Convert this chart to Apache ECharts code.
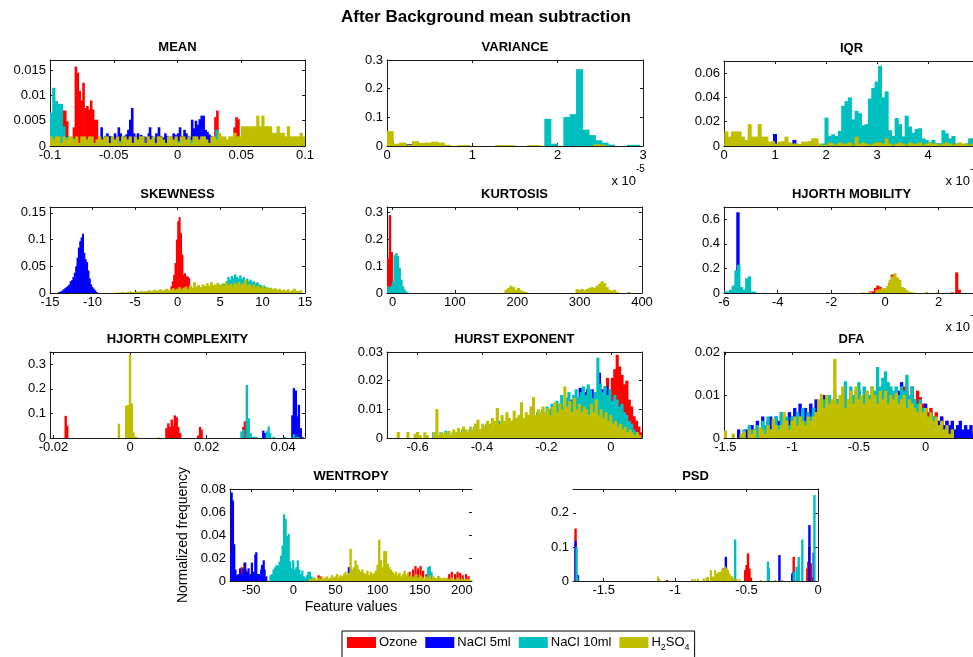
<!DOCTYPE html>
<html>
<head>
<meta charset="utf-8">
<script src="https://cdn.jsdelivr.net/npm/echarts@6/dist/echarts.min.js"></script>
<style>
  html, body { margin: 0; padding: 0; background: #fff; }
  #chart { width: 973px; height: 657px; }
</style>
</head>
<body>
<div id="chart"></div>
<script>
// series names (legend order) - each histogram is a list of [bin centre, normalized frequency]
const seriesNames = ['Ozone', 'NaCl 5ml', 'NaCl 10ml', 'H2SO4']

// helper: evenly spaced bins -> [centre, height] pairs
function bins (start, step, heights) {
  return heights.map((h, i) => [start + i * step, h])
}

// ---------- MEAN ----------
const meanXLim = [-0.1, 0.1]
const meanYLim = [0, 0.017]
const meanXTicks = [-0.1, -0.05, 0, 0.05, 0.1]
const meanYTicks = [0, 0.005, 0.01, 0.015]
const meanWidths = [0.0015, 0.0015, 0.002, 0.002]
const meanOzone = [[-0.0955, 0.002], [-0.094, 0.003], [-0.0925, 0.008], [-0.091, 0.008], [-0.0895, 0.007], [-0.088, 0.007], [-0.0865, 0.0049],
  [-0.0812, 0.0037], [-0.0797, 0.0157], [-0.0782, 0.0145], [-0.0767, 0.0109], [-0.0752, 0.009], [-0.0737, 0.0125], [-0.0722, 0.0075],
  [-0.0707, 0.0079], [-0.0692, 0.0072], [-0.0677, 0.009], [-0.0662, 0.0072], [-0.0647, 0.0052], [-0.0632, 0.0052],
  [-0.0587, 0.0015], [-0.0452, 0.001], [-0.0347, 0.001], [-0.0062, 0.0017], [-0.0047, 0.0019], [0.0103, 0.001], [0.0298, 0.0057],
  [0.0313, 0.007], [0.0343, 0.0015], [0.0448, 0.0037], [0.0463, 0.0057], [0.0478, 0.0053], [0.0508, 0.001]]
const meanNacl5 = [[-0.0955, 0.0015], [-0.0895, 0.0033], [-0.0865, 0.002], [-0.0595, 0.0037], [-0.058, 0.0015], [-0.0565, 0.002], [-0.055, 0.0025],
  [-0.0535, 0.002], [-0.052, 0.0019], [-0.049, 0.0025], [-0.0475, 0.002], [-0.046, 0.0037], [-0.0445, 0.0025], [-0.043, 0.0015], [-0.0415, 0.002],
  [-0.04, 0.0023], [-0.0385, 0.0032], [-0.037, 0.0052], [-0.0355, 0.0075], [-0.034, 0.0025], [-0.0325, 0.002], [-0.031, 0.0025], [-0.03, 0.0017],
  [-0.0285, 0.0022], [-0.027, 0.0017], [-0.026, 0.0019], [-0.024, 0.0018], [-0.0225, 0.0025], [-0.0215, 0.0037], [-0.02, 0.002], [-0.018, 0.0015],
  [-0.0165, 0.0025], [-0.0145, 0.0037], [-0.013, 0.002], [-0.011, 0.0017], [-0.0095, 0.0025], [-0.008, 0.002], [-0.007, 0.0012], [-0.0045, 0.0018],
  [-0.003, 0.0025], [-0.0015, 0.0022], [0.0005, 0.0025], [0.002, 0.0037], [0.0035, 0.002], [0.0055, 0.0032], [0.007, 0.0025], [0.0085, 0.002],
  [0.01, 0.0018], [0.0115, 0.0052], [0.013, 0.0035], [0.0145, 0.005], [0.016, 0.0042], [0.0175, 0.0053], [0.019, 0.006], [0.0205, 0.006],
  [0.022, 0.0032], [0.0235, 0.0028], [0.025, 0.0023], [0.0265, 0.002], [0.028, 0.0017], [0.03, 0.0015], [0.055, 0.0037], [0.06, 0.0013],
  [0.066, 0.0013], [0.072, 0.0013], [0.078, 0.0013], [0.084, 0.0013], [0.09, 0.0013], [0.096, 0.0013]]
const meanNacl10 = [[-0.099, 0.0066], [-0.097, 0.0115], [-0.095, 0.0089], [-0.093, 0.0083], [-0.091, 0.0083], [-0.089, 0.0039], [-0.087, 0.0018],
  [-0.085, 0.0012], [-0.081, 0.0015], [-0.075, 0.0012], [-0.069, 0.0012], [-0.063, 0.001], [-0.055, 0.0012], [-0.051, 0.0017], [-0.045, 0.001],
  [-0.039, 0.001], [-0.031, 0.0012], [-0.021, 0.0012], [-0.011, 0.001], [0.001, 0.001], [0.011, 0.0012], [0.019, 0.0012], [0.031, 0.0032],
  [0.037, 0.0015], [0.047, 0.0015], [0.053, 0.0015], [0.057, 0.0015], [0.061, 0.0015], [0.065, 0.0015], [0.069, 0.0015], [0.073, 0.0015],
  [0.077, 0.0015], [0.081, 0.0015], [0.085, 0.0015], [0.087, 0.0015], [0.091, 0.0015], [0.095, 0.0015], [0.099, 0.0015]]
const meanAcid = bins(-0.099, 0.002, [
  0.0019, 0.0013, 0.0019, 0.0019, 0.0006, 0.0019, 0.0013, 0.0019, 0.0019, 0.0013,
  0.0019, 0.0006, 0.0019, 0.0019, 0.0013, 0.0019, 0.0019, 0.0006, 0.0013, 0.0019,
  0.0013, 0.0019, 0.0019, 0.0006, 0.0019, 0.0013, 0.0019, 0.0006, 0.0019, 0.0019,
  0.0013, 0.0019, 0.0006, 0.0019, 0.0013, 0.0019, 0.0019, 0.0006, 0.0019, 0.0013,
  0.0019, 0.0006, 0.0019, 0.0019, 0.0013, 0.0006, 0.0019, 0.0019, 0.0013, 0.0019,
  0.0006, 0.0019, 0.0019, 0.0013, 0.0019, 0.0006, 0.0019, 0.0019, 0.0013, 0.0019,
  0.0019, 0.0013, 0.0006, 0.0019, 0.0019, 0.0013, 0.0026, 0.0019, 0.0019, 0.0013,
  0.0019, 0.0019, 0.0026, 0.0019, 0.0019,
  0.0039, 0.0039, 0.0039, 0.0039, 0.0039, 0.0039, 0.006, 0.0039, 0.006, 0.0039,
  0.0039, 0.0039, 0.0026, 0.0026, 0.0039, 0.0026, 0.0026, 0.0019, 0.0039, 0.0019,
  0.0019, 0.0019, 0.0019, 0.0026, 0.0019])

// ---------- VARIANCE (x in units of 1e-5) ----------
const varXLim = [0, 3]
const varYLim = [0, 0.3]
const varXTicks = [0, 1, 2, 3]
const varYTicks = [0, 0.1, 0.2, 0.3]
const varWidths = [0.075, 0.075, 0.0745, 0.075]
const varOzone = [[0.037, 0.022], [0.11, 0.004], [0.185, 0.008], [0.26, 0.005], [0.335, 0.006], [0.41, 0.004], [0.56, 0.003]]
const varNacl5 = [[0.037, 0.012], [0.11, 0.004], [0.185, 0.005], [0.26, 0.007], [0.335, 0.007], [0.41, 0.005], [0.485, 0.004], [0.56, 0.005], [0.635, 0.003]]
const varNacl10 = [[0.037, 0.004], [0.26, 0.004], [1.885, 0.095], [1.96, 0.008], [2.108, 0.101], [2.183, 0.111], [2.257, 0.268], [2.332, 0.057],
  [2.406, 0.038], [2.481, 0.02], [2.555, 0.012], [2.63, 0.005], [2.853, 0.004], [2.927, 0.004]]
const varAcid = [[0.037, 0.052], [0.11, 0.008], [0.185, 0.012], [0.26, 0.005], [0.335, 0.017], [0.41, 0.011], [0.485, 0.012], [0.56, 0.015],
  [0.635, 0.012], [0.71, 0.004], [0.86, 0.003], [0.935, 0.003], [1.31, 0.003], [1.385, 0.003], [1.46, 0.003], [1.685, 0.003], [1.76, 0.003],
  [2.46, 0.006], [2.535, 0.004]]

// ---------- IQR (x in units of 1e-3) ----------
const iqrXLim = [0, 5]
const iqrYLim = [0, 0.07]
const iqrXTicks = [0, 1, 2, 3, 4, 5]
const iqrYTicks = [0, 0.02, 0.04, 0.06]
const iqrWidths = [0.0655, 0.0655, 0.0655, 0.0655]
const iqrOzone = [[0.2, 0.003], [0.5, 0.003], [0.9, 0.002], [1.3, 0.002], [1.5, 0.0015], [2.7, 0.002], [3.4, 0.002], [3.8, 0.002]]
const iqrNacl5 = [[0.11, 0.004], [0.44, 0.003], [0.7, 0.002], [1.0, 0.0099], [1.07, 0.002], [1.38, 0.005], [1.7, 0.003], [2.6, 0.002],
  [2.9, 0.004], [3.5, 0.002], [4.2, 0.002]]
const iqrNacl10 = bins(0.045, 0.0655, [
  0.002, 0.003, 0.002, 0.003, 0.004, 0.002, 0.004, 0.003, 0.002, 0.003,
  0.003, 0.002, 0.001, 0.002, 0.002, 0.001, 0, 0.002, 0.001, 0.002,
  0.001, 0.002, 0, 0.001, 0.002, 0.001, 0.002, 0, 0.001, 0.002,
  0.0234, 0.0083, 0.0096, 0.0083, 0.0124, 0.033, 0.037, 0.04, 0.022, 0.029,
  0.027, 0.017, 0.018, 0.039, 0.0477, 0.053, 0.066, 0.04, 0.045, 0.013,
  0.0083, 0.023, 0.018, 0.008, 0.025, 0.016, 0.011, 0.014, 0.0146, 0.0063,
  0.005, 0.0036, 0.005, 0.0022, 0.0022, 0.013, 0.0105, 0.0063, 0.0083, 0.0022,
  0.0015, 0.001, 0.0022, 0.0063, 0.0063])
const iqrAcid = bins(0.045, 0.0655, [
  0.012, 0.0077, 0.012, 0.012, 0.012, 0.0077, 0.005, 0.018, 0.0077, 0.0077,
  0.018, 0.0077, 0.0077, 0.0036, 0.004, 0.002, 0.0036, 0.004, 0.0077, 0.003,
  0.002, 0.002, 0.0015, 0.0036, 0.0036, 0.004, 0.0063, 0.0063, 0.002, 0.001,
  0.001, 0.003, 0.002, 0.001, 0.003, 0.002, 0.002, 0.003, 0.001, 0.0077,
  0.002, 0.003, 0.002, 0.001, 0.002, 0.003, 0.003, 0.002, 0.0063, 0.002,
  0.001, 0.002, 0.003, 0.002, 0.001, 0.003, 0.002, 0.002, 0.003, 0.001,
  0.002, 0.003, 0.002, 0.002, 0.001, 0.002, 0.003, 0.002, 0.001, 0.002,
  0.003, 0.002, 0.002, 0.001, 0.002, 0.002])

// ---------- SKEWNESS ----------
const skewXLim = [-15, 15]
const skewYLim = [0, 0.161]
const skewXTicks = [-15, -10, -5, 0, 5, 10, 15]
const skewYTicks = [0, 0.05, 0.1, 0.15]
const skewWidths = [0.16, 0.16, 0.2, 0.25]
const skewOzone = bins(-0.87, 0.16, [0.003, 0.0125, 0.022, 0.034, 0.056, 0.1, 0.134, 0.142, 0.112, 0.072, 0.034, 0.037, 0.031, 0.031, 0.028, 0.0125])
const skewNacl5 = bins(-14.0, 0.16, [0.001, 0.002, 0.003, 0.005, 0.007, 0.009, 0.011, 0.013, 0.016, 0.022, 0.024, 0.03, 0.038, 0.05, 0.066,
  0.085, 0.097, 0.104, 0.111, 0.075, 0.063, 0.058, 0.042, 0.027, 0.016, 0.011, 0.008, 0.005, 0.002])
const skewNacl10 = bins(3.0, 0.2, [0.006, 0.004, 0.008, 0.006, 0.01, 0.008, 0.012, 0.01, 0.014, 0.011, 0.015, 0.013, 0.018, 0.016, 0.022,
  0.03, 0.025, 0.032, 0.028, 0.035, 0.03, 0.027, 0.033, 0.026, 0.03, 0.024, 0.027, 0.022, 0.025, 0.02, 0.022, 0.018, 0.02, 0.016, 0.015,
  0.013, 0.014, 0.011, 0.01, 0.009, 0.008, 0.006, 0.005, 0.004, 0.003, 0.003])
const skewAcid = bins(-7.0, 0.25, [
  0.001, 0, 0.002, 0.001, 0.001, 0.002, 0.003, 0.001, 0.002, 0.003, 0.002, 0.004, 0.003,
  0.003, 0.004, 0.005, 0.003, 0.006, 0.004, 0.005, 0.007, 0.004, 0.006, 0.008, 0.005,
  0.007, 0.009, 0.006, 0.008, 0.011, 0.007, 0.01, 0.012, 0.008, 0.014, 0.01, 0.02,
  0.012, 0.015, 0.011, 0.016, 0.013, 0.018, 0.014, 0.02, 0.015, 0.016, 0.019, 0.014,
  0.017, 0.013, 0.02, 0.015, 0.018, 0.014, 0.019, 0.016, 0.021, 0.015, 0.018, 0.025,
  0.014, 0.017, 0.012, 0.016, 0.011, 0.014, 0.01, 0.013, 0.009, 0.011, 0.008, 0.01,
  0.007, 0.009, 0.006, 0.008, 0.005, 0.006, 0.004, 0.007, 0.003, 0.005, 0.008, 0.004, 0.003, 0.005])

// ---------- KURTOSIS ----------
const kurtXLim = [-9, 400]
const kurtYLim = [0, 0.32]
const kurtXTicks = [0, 100, 200, 300, 400]
const kurtYTicks = [0, 0.1, 0.2, 0.3]
const kurtWidths = [2.8, 2.7, 2.7, 4]
const kurtOzone = [[-7.0, 0.129], [-4.2, 0.29], [-1.4, 0.152]]
const kurtNacl5 = []
const kurtNacl10 = [[-7.5, 0.025], [-4.8, 0.02], [-2.1, 0.027], [0.6, 0.044], [3.3, 0.14], [6.0, 0.148], [8.7, 0.138], [11.4, 0.094],
  [14.1, 0.05], [16.8, 0.025], [19.5, 0.0125], [22.2, 0.006]]
const kurtAcid = [[182, 0.0125], [186, 0.019], [190, 0.027], [194, 0.022], [198, 0.012], [202, 0.019], [206, 0.01], [210, 0.006], [214, 0.004],
  [296, 0.015], [300, 0.01], [304, 0.015], [308, 0.01], [312, 0.015], [316, 0.019], [320, 0.022], [324, 0.019], [328, 0.027], [332, 0.035],
  [336, 0.044], [340, 0.037], [344, 0.022], [348, 0.012], [352, 0.009], [356, 0.012], [360, 0.004], [379, 0.004]]

// ---------- HJORTH MOBILITY (x in units of 1e-3) ----------
const mobXLim = [-6, 3.5]
const mobYLim = [0, 0.7]
const mobXTicks = [-6, -4, -2, 0, 2]
const mobYTicks = [0, 0.2, 0.4, 0.6]
const mobWidths = [0.09, 0.1, 0.1, 0.09]
const mobOzone = [[-0.55, 0.013], [-0.45, 0.013], [-0.36, 0.04], [-0.27, 0.06], [-0.18, 0.049], [-0.09, 0.02], [0.0, 0.01], [0.18, 0.081],
  [0.27, 0.15], [0.36, 0.127], [0.45, 0.095], [0.54, 0.04], [0.63, 0.02], [2.5, 0.005], [2.67, 0.168], [2.77, 0.027]]
const mobNacl5 = [[-5.65, 0.02], [-5.48, 0.657], [-5.34, 0.01]]
const mobNacl10 = [[-5.95, 0.013], [-5.85, 0.013], [-5.75, 0.027], [-5.65, 0.06], [-5.55, 0.184], [-5.45, 0.23], [-5.35, 0.049], [-5.25, 0.027],
  [-5.15, 0.12], [-5.05, 0.135], [-4.95, 0.011], [-4.85, 0.011]]
const mobAcid = [[-0.8, 0.005], [-0.55, 0.008], [-0.3, 0.027], [-0.2, 0.03], [-0.1, 0.04], [0.0, 0.04], [0.1, 0.06], [0.19, 0.108], [0.28, 0.135],
  [0.37, 0.16], [0.46, 0.127], [0.55, 0.108], [0.64, 0.049], [0.73, 0.04], [0.82, 0.022], [0.93, 0.011], [1.05, 0.005], [1.56, 0.008], [1.93, 0.005]]

// ---------- HJORTH COMPLEXITY ----------
const cxXLim = [-0.0209, 0.0457]
const cxYLim = [0, 0.35]
const cxXTicks = [-0.02, 0, 0.02, 0.04]
const cxYTicks = [0, 0.1, 0.2, 0.3]
const cxWidths = [0.00044, 0.00044, 0.00044, 0.00044]
const cxOzone = [[-0.0168, 0.09], [-0.0164, 0.05], [0.0095, 0.04], [0.01, 0.06], [0.0104, 0.045], [0.0109, 0.075], [0.0113, 0.05], [0.0117, 0.092],
  [0.0122, 0.085], [0.0126, 0.045], [0.0131, 0.02], [0.0178, 0.01], [0.0183, 0.045], [0.0187, 0.034], [0.0296, 0.045], [0.03, 0.068]]
const cxNacl5 = [[0.0348, 0.03], [0.0353, 0.02], [0.0424, 0.092], [0.0428, 0.203], [0.0433, 0.193], [0.0437, 0.088], [0.0441, 0.135], [0.0446, 0.04], [0.045, 0.004]]
const cxNacl10 = [[0.0291, 0.027], [0.0296, 0.035], [0.0305, 0.216], [0.031, 0.08], [0.0315, 0.02], [0.032, 0.005], [0.0325, 0.005], [0.033, 0.005],
  [0.0357, 0.027], [0.0362, 0.047], [0.0366, 0.02], [0.0375, 0.005], [0.0405, 0.004], [0.0428, 0.015], [0.0435, 0.005], [0.044, 0.005]]
const cxAcid = [[-0.0029, 0.058], [-0.001, 0.131], [-0.0005, 0.135], [0.0, 0.34], [0.0005, 0.14], [0.0009, 0.023], [0.0014, 0.005], [0.0018, 0.003], [0.0075, 0.003]]

// ---------- HURST EXPONENT ----------
const hurstXLim = [-0.695, 0.097]
const hurstYLim = [0, 0.03]
const hurstXTicks = [-0.6, -0.4, -0.2, 0]
const hurstYTicks = [0, 0.01, 0.02, 0.03]
const hurstWidths = [0.0075, 0.0075, 0.0075, 0.0075]
const hurstOzone = bins(-0.07, 0.0075, [0.004, 0.006, 0.008, 0.011, 0.009, 0.0163, 0.013, 0.018, 0.021, 0.017,
  0.021, 0.024, 0.029, 0.025, 0.022, 0.0187, 0.02, 0.0134, 0.011, 0.0076, 0.006, 0.004, 0.002])
const hurstNacl5 = bins(-0.2, 0.0075, [0.004, 0.006, 0.005, 0.008, 0.0076, 0.009, 0.011, 0.01, 0.013, 0.012,
  0.0134, 0.011, 0.015, 0.014, 0.0175, 0.013, 0.016, 0.017, 0.015, 0.017,
  0.014, 0.016, 0.0228, 0.017, 0.015, 0.018, 0.016, 0.013, 0.012, 0.01,
  0.011, 0.01, 0.008, 0.007, 0.005, 0.004, 0.003])
const hurstNacl10 = bins(-0.55, 0.0075, [
  0.002, 0, 0.001, 0.002, 0, 0.0025, 0.001, 0, 0.002, 0.001,
  0.002, 0.001, 0.003, 0.002, 0.001, 0.003, 0.002, 0.004, 0.002, 0.003,
  0.003, 0.004, 0.005, 0.003, 0.004, 0.005, 0.004, 0.006, 0.005, 0.004,
  0.005, 0.006, 0.004, 0.006, 0.007, 0.005, 0.006, 0.007, 0.006, 0.008,
  0.007, 0.008, 0.006, 0.009, 0.008, 0.01, 0.009, 0.011, 0.01, 0.012,
  0.011, 0.013, 0.012, 0.015, 0.011, 0.014, 0.016, 0.013, 0.015, 0.017,
  0.014, 0.016, 0.018, 0.015, 0.0187, 0.017, 0.014, 0.016, 0.028, 0.019,
  0.016, 0.018, 0.015, 0.017, 0.013, 0.015, 0.0134, 0.011, 0.012, 0.009,
  0.008, 0.006, 0.005, 0.003, 0.002])
const hurstAcid = bins(-0.66, 0.0075, [
  0.0021, 0, 0, 0, 0.0021, 0, 0, 0.0015, 0.0021, 0.001,
  0, 0.002, 0.001, 0, 0, 0.002, 0.0101, 0.001, 0.002, 0.0015,
  0.002, 0.0025, 0.001, 0.003, 0.002, 0.0035, 0.002, 0.004, 0.003, 0.002,
  0.004, 0.003, 0.005, 0.0064, 0.003, 0.005, 0.004, 0.006, 0.005, 0.007,
  0.006, 0.0105, 0.005, 0.008, 0.006, 0.009, 0.007, 0.006, 0.0095, 0.007,
  0.008, 0.0125, 0.007, 0.009, 0.008, 0.011, 0.0143, 0.008, 0.01, 0.009,
  0.011, 0.009, 0.0105, 0.008, 0.011, 0.0125, 0.009, 0.012, 0.01, 0.018,
  0.011, 0.013, 0.009, 0.014, 0.01, 0.012, 0.009, 0.011, 0.01, 0.008,
  0.012, 0.009, 0.0135, 0.008, 0.01, 0.007, 0.009, 0.006, 0.008, 0.005,
  0.006, 0.004, 0.005, 0.003, 0.004, 0.002, 0.003, 0.002, 0.001, 0.002, 0.001])

// ---------- DFA ----------
const dfaXLim = [-1.51, 0.4]
const dfaYLim = [0, 0.02]
const dfaXTicks = [-1.5, -1, -0.5, 0]
const dfaYTicks = [0, 0.01, 0.02]
const dfaWidths = [0.02, 0.02, 0.02, 0.02]
const dfaOzone = bins(-1.2, 0.02, [
  0.001, 0, 0.002, 0.001, 0.002, 0.003, 0.001, 0.002, 0.004, 0.002,
  0.003, 0.002, 0.004, 0.003, 0.005, 0.004, 0.003, 0.005, 0.004, 0.006,
  0.005, 0.004, 0.006, 0.005, 0.007, 0.006, 0.005, 0.007, 0.006, 0.008,
  0.007, 0.006, 0.008, 0.007, 0.009, 0.008, 0.007, 0.009, 0.008, 0.01,
  0.009, 0.008, 0.01, 0.009, 0.008, 0.011, 0.009, 0.01, 0.008, 0.011,
  0.009, 0.01, 0.012, 0.011, 0.01, 0.012, 0.009, 0.011, 0.0095, 0.008,
  0.007, 0.006, 0.007, 0.005, 0.006, 0.004, 0.005, 0.003, 0.004, 0.002, 0.002])
const dfaNacl5 = bins(-1.4, 0.02, [
  0.002, 0, 0.001, 0.002, 0.001, 0.003, 0.002, 0.004, 0.002, 0.005,
  0.003, 0.004, 0.005, 0.003, 0.005, 0.004, 0.006, 0.005, 0.004, 0.006,
  0.005, 0.007, 0.006, 0.008, 0.005, 0.007, 0.006, 0.008, 0.007, 0.009,
  0.006, 0.008, 0.01, 0.007, 0.009, 0.008, 0.006, 0.009, 0.008, 0.007,
  0.009, 0.008, 0.01, 0.009, 0.007, 0.011, 0.008, 0.01, 0.009, 0.008,
  0.01, 0.009, 0.011, 0.008, 0.01, 0.009, 0.011, 0.01, 0.008, 0.009,
  0.011, 0.013, 0.009, 0.01, 0.008, 0.009, 0.007, 0.008, 0.006, 0.007,
  0.008, 0.005, 0.006, 0.0045, 0.005, 0.004, 0.005, 0.003, 0.004, 0.003,
  0.004, 0.002, 0.003, 0.004, 0.002, 0.003, 0.002, 0.003, 0.001, 0.002, 0.001])
const dfaNacl10 = bins(-1.4, 0.02, [
  0, 0.001, 0.002, 0, 0.003, 0.002, 0.001, 0.003, 0.002, 0.004,
  0.003, 0.005, 0.002, 0.004, 0.005, 0.003, 0.006, 0.004, 0.005, 0.003,
  0.005, 0.004, 0.006, 0.005, 0.007, 0.004, 0.006, 0.005, 0.007, 0.006,
  0.008, 0.006, 0.009, 0.007, 0.01, 0.008, 0.011, 0.009, 0.007, 0.01,
  0.0132, 0.009, 0.012, 0.01, 0.011, 0.013, 0.009, 0.012, 0.011, 0.01,
  0.012, 0.011, 0.0165, 0.012, 0.014, 0.0155, 0.013, 0.012, 0.011, 0.012,
  0.01, 0.012, 0.011, 0.0147, 0.01, 0.012, 0.009, 0.008, 0.009, 0.007,
  0.006, 0.005, 0.004, 0.005, 0.003, 0.002])
const dfaAcid = bins(-1.5, 0.02, [
  0.0017, 0, 0, 0.001, 0, 0, 0.001, 0.0015, 0, 0.002,
  0.001, 0.002, 0, 0.0025, 0.002, 0.001, 0.003, 0.002, 0.0045, 0.003,
  0.002, 0.003, 0.006, 0.004, 0.002, 0.004, 0.005, 0.003, 0.005, 0.004,
  0.003, 0.005, 0.004, 0.005, 0.006, 0.009, 0.0102, 0.007, 0.01, 0.008,
  0.009, 0.0184, 0.008, 0.01, 0.012, 0.007, 0.009, 0.011, 0.008, 0.012,
  0.009, 0.01, 0.008, 0.011, 0.009, 0.012, 0.01, 0.008, 0.011, 0.009,
  0.011, 0.008, 0.01, 0.009, 0.0105, 0.008, 0.009, 0.01, 0.007, 0.009,
  0.008, 0.007, 0.006, 0.008, 0.006, 0.007, 0.005, 0.006, 0.004, 0.005,
  0.003, 0.004, 0.002, 0.003, 0.001, 0.002])

// ---------- WENTROPY ----------
const wenXLim = [-75, 212]
const wenYLim = [0, 0.08]
const wenXTicks = [-50, 0, 50, 100, 150, 200]
const wenYTicks = [0, 0.02, 0.04, 0.06, 0.08]
const wenWidths = [1.8, 1.8, 1.8, 2]
const wenOzone = [[-61, 0.012], [-58, 0.016], [-56, 0.01], [30, 0.005], [32, 0.004], [98, 0.006], [132, 0.006], [138, 0.008], [142, 0.01],
  [145, 0.013], [148, 0.011], [151, 0.013], [154, 0.009], [158, 0.006], [172, 0.004], [185, 0.006], [188, 0.008], [192, 0.006], [195, 0.008],
  [198, 0.007], [201, 0.005], [205, 0.006], [208, 0.004]]
const wenNacl5 = [[-74, 0.024], [-73, 0.077], [-71.5, 0.07], [-70, 0.032], [-68.5, 0.01], [-66.5, 0.005], [-65, 0.006], [-63, 0.011], [-61, 0.006],
  [-59, 0.011], [-57, 0.016], [-55, 0.008], [-53, 0.011], [-51, 0.006], [-49, 0.016], [-47, 0.008], [-45, 0.023], [-43.8, 0.025], [-42, 0.006],
  [-40, 0.006], [-38, 0.01], [-37, 0.014], [-35, 0.018], [-34, 0.01], [-32, 0.004], [66, 0.012], [100, 0.005], [150, 0.004]]
const wenNacl10 = bins(-27, 1.8, [0.005, 0.006, 0.01, 0.012, 0.014, 0.013, 0.017, 0.022, 0.031, 0.058, 0.054, 0.039, 0.041, 0.017, 0.011,
  0.018, 0.01, 0.012, 0.018, 0.01, 0.006, 0.009, 0.004, 0.003, 0.005, 0.008, 0.008, 0.004, 0.002, 0.003, 0.001])
  .concat([[160, 0.012], [162, 0.013], [164, 0.008]])
const wenAcid = bins(20, 2, [
  0.002, 0.001, 0.003, 0.002, 0.001, 0.003, 0.002, 0.004, 0.002, 0.003,
  0.004, 0.002, 0.003, 0.005, 0.003, 0.004, 0.006, 0.003, 0.005, 0.004,
  0.006, 0.008, 0.005, 0.007, 0.028, 0.01, 0.012, 0.018, 0.014, 0.01,
  0.008, 0.01, 0.007, 0.006, 0.009, 0.005, 0.008, 0.006, 0.007, 0.009,
  0.014, 0.036, 0.018, 0.012, 0.026, 0.026, 0.015, 0.012, 0.01, 0.008,
  0.006, 0.008, 0.005, 0.007, 0.004, 0.006, 0.009, 0.005, 0.007, 0.004,
  0.005, 0.003, 0.004, 0.006, 0.003, 0.005, 0.004, 0.003, 0.002, 0.004,
  0.003, 0.005, 0.002, 0.004, 0.003, 0.002, 0.004, 0.003, 0.002, 0.003,
  0.002, 0.003, 0.002, 0.001, 0.003, 0.002, 0.001, 0.002, 0.003, 0.001,
  0.002, 0.001, 0.002, 0.001, 0.002, 0.001])

// ---------- PSD ----------
const psdXLim = [-1.715, 0]
const psdYLim = [0, 0.27]
const psdXTicks = [-1.5, -1, -0.5, 0]
const psdYTicks = [0, 0.1, 0.2]
const psdWidths = [0.012, 0.012, 0.012, 0.01]
const psdOzone = [[-1.697, 0.154], [-1.057, 0.003], [-0.51, 0.032], [-0.5, 0.047], [-0.49, 0.081], [-0.48, 0.037], [-0.47, 0.01], [-0.17, 0.071],
  [-0.075, 0.037], [-0.068, 0.057], [-0.061, 0.1], [-0.05, 0.052], [-0.04, 0.01]]
const psdNacl5 = [[-1.697, 0.117], [-1.69, 0.02], [-1.68, 0.017], [-0.66, 0.037], [-0.654, 0.02], [-0.645, 0.071], [-0.27, 0.076],
  [-0.18, 0.022], [-0.174, 0.027], [-0.06, 0.164], [-0.03, 0.083]]
const psdNacl10 = [[-1.69, 0.1], [-1.685, 0.01], [-0.58, 0.122], [-0.35, 0.057], [-0.345, 0.037], [-0.17, 0.027], [-0.15, 0.042], [-0.135, 0.071],
  [-0.11, 0.122], [-0.025, 0.252]]
const psdAcid = [[-1.12, 0.013], [-1.11, 0.006], [-0.88, 0.006], [-0.86, 0.005], [-0.84, 0.006], [-0.8, 0.008], [-0.78, 0.01], [-0.77, 0.012],
  [-0.75, 0.032], [-0.74, 0.013], [-0.73, 0.012], [-0.72, 0.032], [-0.71, 0.02], [-0.7, 0.025], [-0.69, 0.026], [-0.68, 0.027], [-0.67, 0.036],
  [-0.66, 0.035], [-0.65, 0.042], [-0.64, 0.037], [-0.63, 0.032], [-0.62, 0.022], [-0.61, 0.015], [-0.6, 0.013], [-0.59, 0.008], [-0.57, 0.006],
  [-0.55, 0.005], [-0.4, 0.003], [-0.3, 0.003], [-0.25, 0.003]]

// ---------- layout ----------
const FONT = "'Liberation Sans', Arial, Helvetica, sans-serif"
const colors = ['#ff0000', '#0000ff', '#00bfbf', '#bfbf00']
const axisColor = '#1a1a1a'

const panels = [
  { title: 'MEAN', box: [50, 60, 255, 86], xl: meanXLim, yl: meanYLim, xt: meanXTicks, yt: meanYTicks, w: meanWidths, d: [meanOzone, meanNacl5, meanNacl10, meanAcid] },
  { title: 'VARIANCE', box: [387, 60, 256, 86], xl: varXLim, yl: varYLim, xt: varXTicks, yt: varYTicks, w: varWidths, d: [varOzone, varNacl5, varNacl10, varAcid] },
  { title: 'IQR', box: [724, 61, 255, 85], xl: iqrXLim, yl: iqrYLim, xt: iqrXTicks, yt: iqrYTicks, w: iqrWidths, d: [iqrOzone, iqrNacl5, iqrNacl10, iqrAcid] },
  { title: 'SKEWNESS', box: [50, 207, 255, 86], xl: skewXLim, yl: skewYLim, xt: skewXTicks, yt: skewYTicks, w: skewWidths, d: [skewOzone, skewNacl5, skewNacl10, skewAcid] },
  { title: 'KURTOSIS', box: [387, 207, 255, 86], xl: kurtXLim, yl: kurtYLim, xt: kurtXTicks, yt: kurtYTicks, w: kurtWidths, d: [kurtOzone, kurtNacl5, kurtNacl10, kurtAcid] },
  { title: 'HJORTH MOBILITY', box: [724, 207, 255, 86], xl: mobXLim, yl: mobYLim, xt: mobXTicks, yt: mobYTicks, w: mobWidths, d: [mobOzone, mobNacl5, mobNacl10, mobAcid] },
  { title: 'HJORTH COMPLEXITY', box: [50, 352, 255, 86], xl: cxXLim, yl: cxYLim, xt: cxXTicks, yt: cxYTicks, w: cxWidths, d: [cxOzone, cxNacl5, cxNacl10, cxAcid] },
  { title: 'HURST EXPONENT', box: [387, 352, 255, 86], xl: hurstXLim, yl: hurstYLim, xt: hurstXTicks, yt: hurstYTicks, w: hurstWidths, d: [hurstOzone, hurstNacl5, hurstNacl10, hurstAcid] },
  { title: 'DFA', box: [724, 352, 255, 86], xl: dfaXLim, yl: dfaYLim, xt: dfaXTicks, yt: dfaYTicks, w: dfaWidths, d: [dfaOzone, dfaNacl5, dfaNacl10, dfaAcid] },
  { title: 'WENTROPY', box: [230, 489, 242, 92], xl: wenXLim, yl: wenYLim, xt: wenXTicks, yt: wenYTicks, w: wenWidths, d: [wenOzone, wenNacl5, wenNacl10, wenAcid],
    xName: 'Feature values', yName: 'Normalized frequency', noRight: true },
  { title: 'PSD', box: [573, 489, 245, 92], xl: psdXLim, yl: psdYLim, xt: psdXTicks, yt: psdYTicks, w: psdWidths, d: [psdOzone, psdNacl5, psdNacl10, psdAcid], noLeft: true },
]

function renderBar (params, api) {
  const x = api.value(0)
  const h = api.value(1)
  const w = api.value(2)
  const a = api.coord([x - w / 2, h])
  const b = api.coord([x + w / 2, 0])
  // small overlap so neighbouring bins read as one solid histogram
  const rect = echarts.graphic.clipRectByRect(
    { x: a[0] - 0.35, y: a[1], width: Math.max(b[0] - a[0], 1) + 0.7, height: b[1] - a[1] },
    params.coordSys
  )
  if (!rect) return null
  return { type: 'rect', shape: rect, style: { fill: api.visual('color') } }
}

const grids = []
const xAxes = []
const yAxes = []
const series = []
const graphics = [
  { type: 'text', x: 486, y: 17, style: { text: 'After Background mean subtraction', font: 'bold 17px ' + FONT, fill: '#000', align: 'center', verticalAlign: 'middle' } },
]

function tickStyle (values) {
  return { show: true, inside: true, length: 3, customValues: values, lineStyle: { color: axisColor, width: 1 } }
}

panels.forEach((p, i) => {
  const [left, top, width, height] = p.box
  grids.push({ left, top, width, height, containLabel: false, outerBoundsMode: 'none' })
  graphics.push({ type: 'text', x: left + width / 2, y: top - 13, style: { text: p.title, font: 'bold 13px ' + FONT, fill: '#000', align: 'center', verticalAlign: 'middle' } })

  const labelStyle = { color: '#000', fontSize: 13, fontFamily: FONT }
  xAxes.push({
    type: 'value', gridIndex: i, position: 'bottom', min: p.xl[0], max: p.xl[1],
    axisLine: { show: true, onZero: false, lineStyle: { color: axisColor, width: 1 } },
    axisTick: tickStyle(p.xt),
    axisLabel: Object.assign({ customValues: p.xt, margin: 3 }, labelStyle),
    splitLine: { show: false },
    name: p.xName || '', nameLocation: 'middle', nameGap: 19,
    nameTextStyle: { color: '#000', fontSize: 14, fontFamily: FONT },
  })
  xAxes.push({
    type: 'value', gridIndex: i, position: 'top', min: p.xl[0], max: p.xl[1],
    axisLine: { show: true, onZero: false, lineStyle: { color: axisColor, width: 1 } },
    axisTick: tickStyle(p.xt), axisLabel: { show: false }, splitLine: { show: false },
  })
  yAxes.push({
    type: 'value', gridIndex: i, position: 'left', min: p.yl[0], max: p.yl[1],
    axisLine: { show: !p.noLeft, onZero: false, lineStyle: { color: axisColor, width: 1 } },
    axisTick: tickStyle(p.yt),
    axisLabel: Object.assign({ customValues: p.yt, margin: 4 }, labelStyle),
    splitLine: { show: false },
    name: p.yName || '', nameLocation: 'middle', nameGap: 40,
    nameTextStyle: { color: '#000', fontSize: 14, fontFamily: FONT },
  })
  yAxes.push({
    type: 'value', gridIndex: i, position: 'right', min: p.yl[0], max: p.yl[1],
    axisLine: { show: !p.noRight, onZero: false, lineStyle: { color: axisColor, width: 1 } },
    axisTick: tickStyle(p.yt), axisLabel: { show: false }, splitLine: { show: false },
  })

  p.d.forEach((hist, k) => {
    series.push({
      type: 'custom',
      name: seriesNames[k],
      xAxisIndex: 2 * i,
      yAxisIndex: 2 * i,
      itemStyle: { color: colors[k] },
      renderItem: renderBar,
      encode: { x: 0, y: 1 },
      data: hist.map(b => [b[0], b[1], p.w[k]]),
      silent: true,
    })
  })
})

// scale exponent labels (x 10^n)
function exponentLabel (xRight, y, power) {
  graphics.push({ type: 'text', x: xRight, y, style: { text: 'x 10', font: '13px ' + FONT, fill: '#000', align: 'right', verticalAlign: 'middle' } })
  graphics.push({ type: 'text', x: xRight, y: y - 12, style: { text: power, font: '10px ' + FONT, fill: '#000', align: 'left', verticalAlign: 'middle' } })
}
exponentLabel(636, 181, '-5')
exponentLabel(970, 181, '-3')
exponentLabel(970, 327, '-3')

const chart = echarts.init(document.getElementById('chart'))
chart.setOption({
  animation: false,
  backgroundColor: '#fff',
  grid: grids,
  xAxis: xAxes,
  yAxis: yAxes,
  series,
  graphic: graphics,
  legend: {
    data: seriesNames,
    left: 342,
    top: 631,
    orient: 'horizontal',
    icon: 'rect',
    itemWidth: 29,
    itemHeight: 11,
    itemGap: 8,
    padding: [5, 5, 20, 5],
    borderColor: '#000',
    borderWidth: 1,
    selectedMode: false,
    formatter: name => name === 'H2SO4' ? 'H{s|2}SO{s|4}' : name,
    textStyle: {
      color: '#000',
      fontSize: 13,
      fontFamily: FONT,
      padding: [0, 0, 0, -2],
      rich: { s: { fontSize: 9, fontFamily: FONT, verticalAlign: 'bottom', lineHeight: 20 } },
    },
  },
})
</script>
</body>
</html>
